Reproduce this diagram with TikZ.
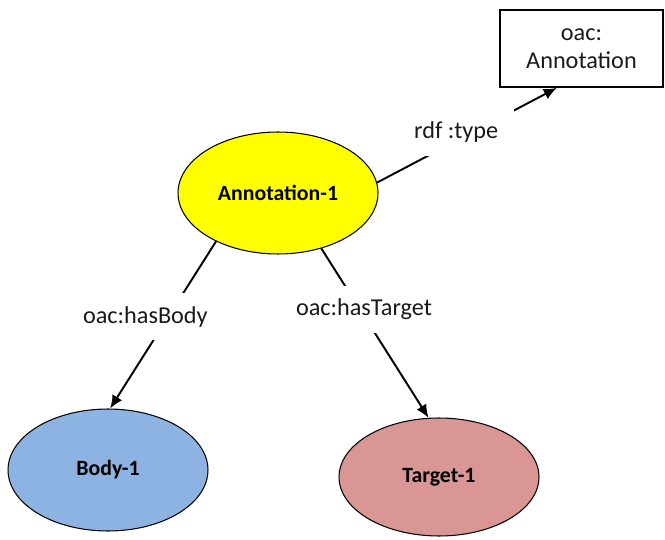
\documentclass[tikz,border=0pt]{standalone}
\usepackage{fontspec}
\setmainfont{Carlito}
\usetikzlibrary{arrows.meta, shapes.geometric}
\definecolor{annYellow}{HTML}{FFFF00}
\definecolor{bodyBlue}{HTML}{8DB3E2}
\definecolor{targetPink}{HTML}{D99694}
\definecolor{lblText}{HTML}{1A1A1A}

\begin{document}
\begin{tikzpicture}[
    x=0.02cm, y=-0.02cm, >={Latex[length=7.5pt, width=6.5pt]},
    res/.style={ellipse, draw, line width=0.6pt, minimum width=4cm,
                minimum height=2.44cm, inner sep=0pt,
                font=\fontsize{12.4}{14}\selectfont\bfseries},
    cls/.style={rectangle, draw, line width=1pt, minimum width=3.26cm,
                minimum height=1.54cm, align=center,
                font=\fontsize{13.8}{15.9}\selectfont\color{lblText}},
    prop/.style={fill=white, inner sep=1pt, minimum height=0.95cm,
                 font=\fontsize{13.8}{16}\selectfont\color{lblText}},
    link/.style={->, line width=1.1pt},
  ]
    \useasboundingbox (0,0) rectangle (665,540);

    % Resources
    \node[res, fill=annYellow] (ann) at (278,193) {Annotation-1};
    \node[res, fill=bodyBlue] (body) at (108,470) {Body-1};
    \node[res, fill=targetPink, minimum height=2.36cm] (target) at (439,477) {Target-1};
    \node[cls] (cls) at (581.5,48.5) {oac:\\Annotation};

    % Properties
    \draw[link] (ann.6) -- node[prop, pos=0.44, yshift=0.17cm, minimum width=2.3cm]{rdf :type} (cls.238);
    \draw[link] (ann.218) -- node[prop, pos=0.45, xshift=-0.46cm]{oac:hasBody} (body.88);
    \draw[link] (ann.308) -- node[prop, pos=0.36, xshift=0.08cm]{oac:hasTarget} (target.100);
  \end{tikzpicture}
\end{document}
